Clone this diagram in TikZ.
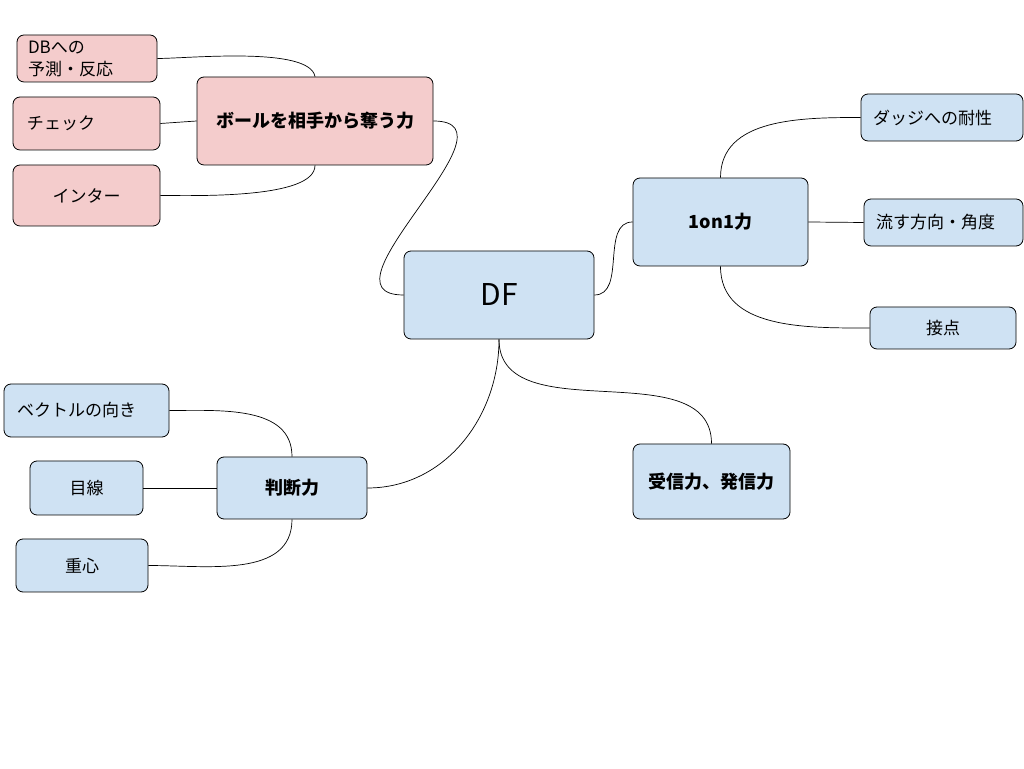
\documentclass[tikz,border=0pt]{standalone}
\usepackage{fontspec}
\setmainfont{Noto Sans CJK JP}
\definecolor{pinkfill}{HTML}{F4CCCC}
\definecolor{bluefill}{HTML}{CFE2F3}

\begin{document}
\begin{tikzpicture}[x=1pt,y=1pt,
 box/.style={draw,line width=0.8pt,rounded corners=7pt,inner sep=0pt,align=center,
 font=\fontsize{17}{22}\selectfont},
 pinkbox/.style={box,fill=pinkfill},
 bluebox/.style={box,fill=bluefill},
 hub/.style={font=\bfseries\fontsize{18}{21}\selectfont},
 link/.style={line width=0.7pt}]
\path[use as bounding box,fill=white] (0,0) rectangle (1024,768);
\node[bluebox,minimum width=190,minimum height=88,font=\fontsize{30}{34}\selectfont] (df) at (499,473) {DF};
\node[pinkbox,hub,minimum width=236,minimum height=88] (steal) at (315,647) {ボールを相手から奪う力};
\node[pinkbox,minimum height=47,text width=118,inner xsep=11,align=left] (db) at (87,709.5) {DBへの\\予測・反応};
\node[pinkbox,minimum height=53,text width=119,inner xsep=14,align=left] (check) at (86.5,644.5) {チェック};
\node[pinkbox,minimum width=147,minimum height=61] (inter) at (86.5,572.5) {インター};
\node[bluebox,hub,minimum width=175,minimum height=88] (onone) at (720.5,546) {1on1力};
\node[bluebox,minimum height=47,text width=138,inner xsep=12,align=left] (dodge) at (942,650.5) {ダッジへの耐性};
\node[bluebox,minimum height=47,text width=135,inner xsep=12,align=left] (flow) at (943.5,545.5) {流す方向・角度};
\node[bluebox,minimum width=146,minimum height=42] (contact) at (943,440) {接点};
\node[bluebox,hub,minimum width=157,minimum height=75] (comm) at (711.5,286.5) {受信力、発信力};
\node[bluebox,hub,minimum width=150,minimum height=62] (judge) at (292,280) {判断力};
\node[bluebox,minimum height=53,text width=139,inner xsep=13,align=left] (vector) at (86.5,357.5) {ベクトルの向き};
\node[bluebox,minimum width=113,minimum height=54] (gaze) at (86.5,280) {目線};
\node[bluebox,minimum width=132,minimum height=53] (cog) at (82,202.5) {重心};
\draw[link] (df.west) to[out=180,in=0,looseness=1.35] (steal.east);
\draw[link] (df.east) to[out=0,in=180] (onone.west);
\draw[link] (df.south) to[out=-90,in=0] (judge.east);
\draw[link] (df.south) to[out=-90,in=90] (comm.north);
\draw[link] (steal.north) to[out=100,in=0,looseness=0.5] (db.east);
\draw[link] (steal.west) -- (check.east);
\draw[link] (steal.south) to[out=-90,in=0,looseness=0.55] (inter.east);
\draw[link] (onone.north) to[out=90,in=180] (dodge.west);
\draw[link] (onone.east) -- (flow.west);
\draw[link] (onone.south) to[out=-90,in=180] (contact.west);
\draw[link] (judge.north) to[out=90,in=0] (vector.east);
\draw[link] (judge.west) -- (gaze.east);
\draw[link] (judge.south) to[out=-90,in=0] (cog.east);
\end{tikzpicture}
\end{document}
